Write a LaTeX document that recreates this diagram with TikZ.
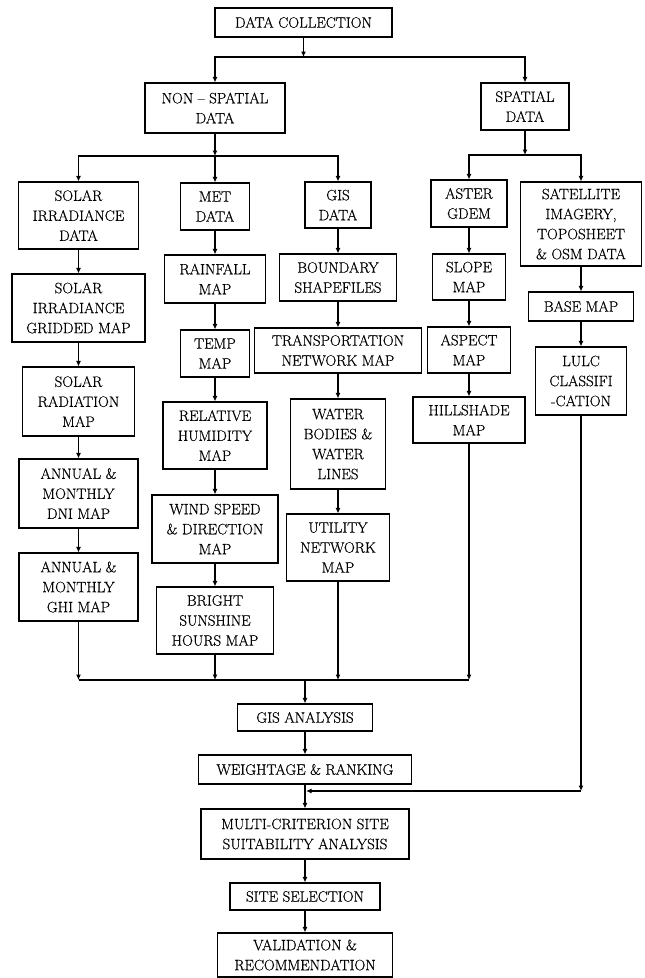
\documentclass[tikz,border=0pt]{standalone}
\usepackage{fontspec}
\newfontfamily\boxfont{Latin Modern Roman}[FakeBold=0.6]
\usetikzlibrary{arrows.meta}
\begin{document}
\begin{tikzpicture}[x=1pt,y=-1pt,line width=1.1pt,>={Latex[length=5.5pt,width=5pt]},
    blk/.style={draw,inner sep=0pt,align=center,font=\boxfont\fontsize{15}{20}\selectfont}]
      \useasboundingbox (0,0) rectangle (645,978) ;
      \node[blk,minimum width=177pt,minimum height=29pt] (dc) at (303.5,22.5) {DATA COLLECTION} ;
      \node[blk,minimum width=140pt,minimum height=50pt] (ns) at (215,108) {NON – SPATIAL\\DATA} ;
      \node[blk,minimum width=88pt,minimum height=47pt] (sp) at (525,106.5) {SPATIAL\\DATA} ;
      % solar column
      \node[blk,minimum width=120pt,minimum height=67pt] (sid) at (78.5,215.5) {SOLAR\\IRRADIANCE\\DATA} ;
      \node[blk,minimum width=133pt,minimum height=68pt] (grid) at (78.5,308) {SOLAR\\IRRADIANCE\\GRIDDED MAP} ;
      \node[blk,minimum width=112pt,minimum height=69pt] (rad) at (78.5,401.5) {SOLAR\\RADIATION\\MAP} ;
      \node[blk,minimum width=119pt,minimum height=69pt] (dni) at (78.5,493.5) {ANNUAL \&\\MONTHLY\\DNI MAP} ;
      \node[blk,minimum width=119pt,minimum height=68pt] (ghi) at (78.5,587) {ANNUAL \&\\MONTHLY\\GHI MAP} ;
      % met column
      \node[blk,minimum width=69pt,minimum height=47pt] (met) at (215,206.5) {MET\\DATA} ;
      \node[blk,minimum width=101pt,minimum height=48pt] (rain) at (215,279) {RAINFALL\\MAP} ;
      \node[blk,minimum width=69pt,minimum height=47pt] (temp) at (215,353.5) {TEMP\\MAP} ;
      \node[blk,minimum width=104pt,minimum height=67pt] (rh) at (215,435.5) {RELATIVE\\HUMIDITY\\MAP} ;
      \node[blk,minimum width=126pt,minimum height=68pt] (wind) at (215,529) {WIND SPEED\\\& DIRECTION\\MAP} ;
      \node[blk,minimum width=117pt,minimum height=67pt] (bright) at (215,620.5) {BRIGHT\\SUNSHINE\\HOURS MAP} ;
      % gis column
      \node[blk,minimum width=66pt,minimum height=46pt] (gis) at (338,205) {GIS\\DATA} ;
      \node[blk,minimum width=117pt,minimum height=47pt] (bound) at (338,277.5) {BOUNDARY\\SHAPEFILES} ;
      \node[blk,minimum width=167pt,minimum height=45pt] (trans) at (338,350.5) {TRANSPORTATION\\NETWORK MAP} ;
      \node[blk,minimum width=95pt,minimum height=90pt] (water) at (338,444) {WATER\\BODIES \&\\WATER\\LINES} ;
      \node[blk,minimum width=103pt,minimum height=67pt] (util) at (338,547.5) {UTILITY\\NETWORK\\MAP} ;
      % aster column
      \node[blk,minimum width=76pt,minimum height=47pt] (aster) at (469,203.5) {ASTER\\GDEM} ;
      \node[blk,minimum width=73pt,minimum height=46pt] (slope) at (469,277) {SLOPE\\MAP} ;
      \node[blk,minimum width=83pt,minimum height=46pt] (aspect) at (469,350) {ASPECT\\MAP} ;
      \node[blk,minimum width=112pt,minimum height=46pt] (hill) at (469,420) {HILLSHADE\\MAP} ;
      % satellite column
      \node[blk,minimum width=121pt,minimum height=84pt] (sat) at (581,224) {SATELLITE\\IMAGERY,\\TOPOSHEET\\\& OSM DATA} ;
      \node[blk,minimum width=105pt,minimum height=29pt] (base) at (581,306.5) {BASE MAP} ;
      \node[blk,minimum width=91pt,minimum height=68pt] (lulc) at (581,381) {LULC\\CLASSIFI\\-CATION} ;
      % analysis
      \node[blk,minimum width=135pt,minimum height=27pt] (gisan) at (305,717.5) {GIS ANALYSIS} ;
      \node[blk,minimum width=213pt,minimum height=29pt] (weight) at (305,769.5) {WEIGHTAGE \& RANKING} ;
      \node[blk,minimum width=208pt,minimum height=50pt] (mca) at (305,834) {MULTI-CRITERION SITE\\SUITABILITY ANALYSIS} ;
      \node[blk,minimum width=150pt,minimum height=27pt] (site) at (305,896.5) {SITE SELECTION} ;
      \node[blk,minimum width=175pt,minimum height=44pt] (valid) at (305,955) {VALIDATION \&\\RECOMMENDATION} ;
      \coordinate (j1) at (303.5,57) ;
      \coordinate (j2) at (215,156) ;
      \coordinate (j3) at (525,155) ;
      \coordinate (j4) at (305,680) ;
      \coordinate (j5) at (581,791) ;
      \coordinate (j6) at (306,791) ;
      \draw[->] (dc) -- (j1) ;
      \draw[->] (ns) -- (j2) ;
      \draw[->] (sp) -- (j3) ;
      \foreach \n in {ns,sp}
        \draw[->] (j1) -| (\n) ;
      \foreach \n in {sid,met,gis}
        \draw[->] (j2) -| (\n) ;
      \foreach \n in {aster,sat}
        \draw[->] (j3) -| (\n) ;
      \foreach \a/\b in {sid/grid,grid/rad,rad/dni,dni/ghi,met/rain,rain/temp,temp/rh,rh/wind,wind/bright,
          gis/bound,bound/trans,trans/water,water/util,aster/slope,slope/aspect,aspect/hill,sat/base,base/lulc,
          gisan/weight,weight/mca,mca/site,site/valid}
        \draw[->] (\a) -- (\b) ;
      \draw (ghi |- j4) -- (hill |- j4) ;
      \foreach \n in {ghi,bright,util,hill}
        \draw[->] (\n) -- (\n |- j4) ;
      \draw[->] (j4) -- (gisan) ;
      \draw[->] (lulc) -- (j5) ;
      \draw[->] (j5) -- (j6) ;
\end{tikzpicture}
\end{document}
